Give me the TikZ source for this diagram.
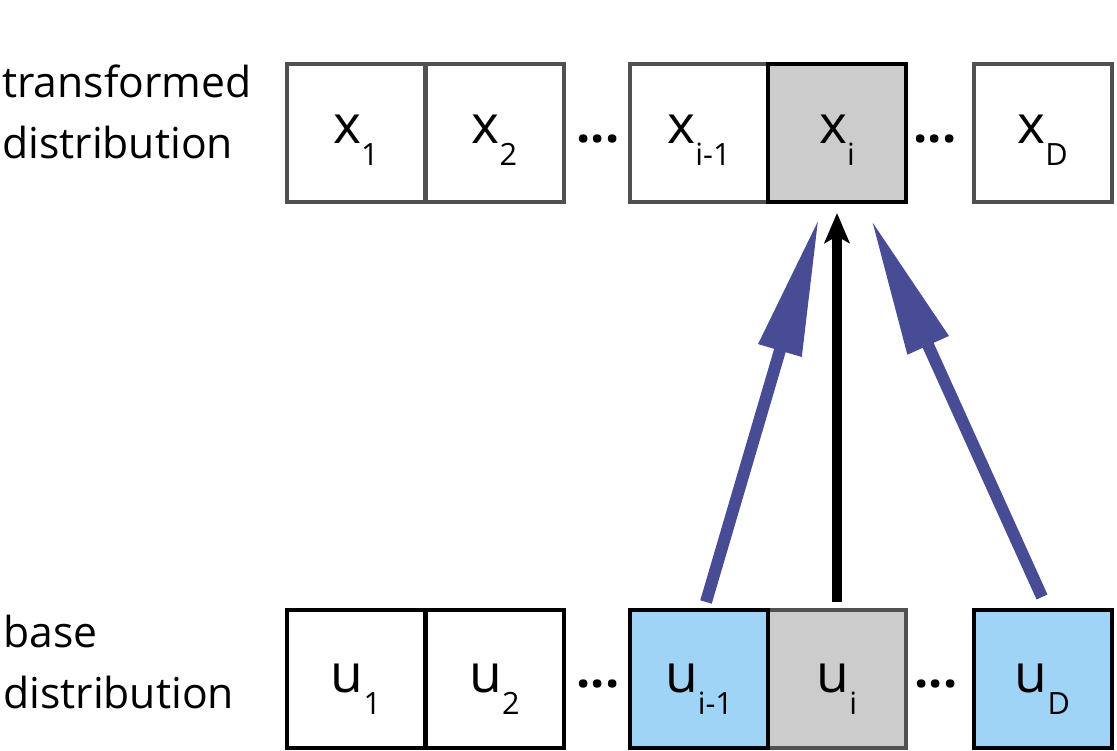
\documentclass[tikz,border=0pt]{standalone}
\usepackage{fontspec}
\setmainfont{Open Sans}
\usetikzlibrary{arrows.meta,calc}
\definecolor{boxgray}{RGB}{80,80,80}
\definecolor{fillgray}{RGB}{204,204,204}
\definecolor{fillblue}{RGB}{160,212,247}
\definecolor{arrowblue}{RGB}{72,76,148}
\newcommand{\vlab}[2]{\fontsize{40}{42}\selectfont #1\raisebox{-16.5pt}{\fontsize{23}{25}\selectfont #2}}
\begin{document}
\begin{tikzpicture}[x=0.75pt,y=-0.75pt,
  cell/.style={draw=black, line width=3pt, minimum width=103.5pt, minimum height=103.5pt, inner sep=0pt, outer sep=0pt},
  lbl/.style={anchor=base, inner sep=0pt},
  dotsnode/.style={anchor=base, inner sep=0pt, font=\fontsize{37.5}{40}\selectfont\bfseries},
  side/.style={anchor=base west, inner sep=0pt, align=left, font=\fontsize{32}{45.75}\selectfont},
  bluearrow/.style={draw=arrowblue, line width=9pt, -{Triangle[length=104pt,width=31.5pt]}},
  blackarrow/.style={draw=black, line width=7.5pt, -{Stealth[length=22.5pt,width=18.75pt,inset=5pt]}}]
\useasboundingbox (0,0) rectangle (1117,750);

% side labels (anchor is on the baseline of the last line)
\node[side] (toplab) at (2,158) {transformed\\distribution};
\node[side] (botlab) at (3,708) {base\\distribution};

% top row
\node[cell, draw=boxgray] (x1) at (356,132.5) {};
\node[cell, draw=boxgray] (x2) at (494.5,132.5) {};
\node[cell, draw=boxgray] (xim) at (699,132.5) {};
\node[cell, draw=black, fill=fillgray] (xi) at (837,132.5) {};
\node[cell, draw=boxgray] (xD) at (1042.5,132.5) {};

% bottom row
\node[cell] (u1) at (356,679) {};
\node[cell] (u2) at (494.5,679) {};
\node[cell, draw=boxgray, fill=fillgray] (ui) at (837,679) {};
\node[cell, fill=fillblue] (uim) at (699,679) {};
\node[cell, fill=fillblue] (uD) at (1042.5,679) {};

% cell texts
\node[lbl] (tx1) at ($(x1.center)+(0,10.5)$) {\vlab{x}{1}};
\node[lbl] (tx2) at ($(x2.center)+(0,10.5)$) {\vlab{x}{2}};
\node[lbl] (txim) at ($(xim.center)+(0,10.5)$) {\vlab{x}{i-1}};
\node[lbl] (txi) at ($(xi.center)+(0,10.5)$) {\vlab{x}{i}};
\node[lbl] (txD) at ($(xD.center)+(0,10.5)$) {\vlab{x}{D}};
\node[lbl] (tu1) at ($(u1.center)+(0,13.5)$) {\vlab{u}{1}};
\node[lbl] (tu2) at ($(u2.center)+(0,13.5)$) {\vlab{u}{2}};
\node[lbl] (tuim) at ($(uim.center)+(0,13.5)$) {\vlab{u}{i-1}};
\node[lbl] (tui) at ($(ui.center)+(0,13.5)$) {\vlab{u}{i}};
\node[lbl] (tuD) at ($(uD.center)+(0,13.5)$) {\vlab{u}{D}};

% ellipses
\node[dotsnode] (dt1) at (598,142) {...};
\node[dotsnode] (dt2) at (935,142) {...};
\node[dotsnode] (db1) at (598,687) {...};
\node[dotsnode] (db2) at (936,687) {...};

% arrows
\coordinate (lt) at ($(uim.north)+(7,-8)$);
\coordinate (lh) at ($(xi.south)+(-18,16)$);
\coordinate (rt) at ($(uD.north)+(-0.5,-13)$);
\coordinate (rh) at ($(xi.south)+(34,17.5)$);
\coordinate (ct) at ($(ui.north)+(0,-8)$);
\coordinate (ch) at ($(xi.south)+(0,11.5)$);
\draw[bluearrow] (lt) -- (lh);
\draw[bluearrow] (rt) -- (rh);
\draw[blackarrow] (ct) -- (ch);
\end{tikzpicture}
\end{document}
